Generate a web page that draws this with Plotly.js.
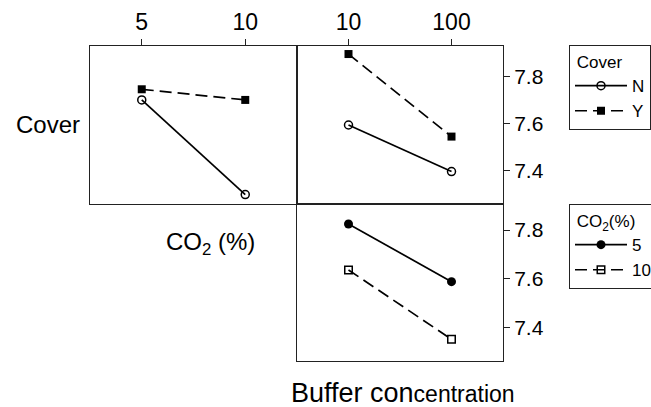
<!DOCTYPE html>
<html>
<head>
<meta charset="utf-8">
<script src="https://cdn.plot.ly/plotly-3.0.1.min.js"></script>
<style>html,body{margin:0;padding:0;background:#fff;}#chart{width:651px;height:407px;}</style>
</head>
<body>
<div id="chart"></div>
<script>
// ---- data ----
const co2Levels = ["5", "10"];
const bufferLevels = ["10", "100"];
const coverLevels = ["N", "Y"];
// pH means: Cover x CO2 (top-left panel)
const coverN_byCO2 = [7.70, 7.30];
const coverY_byCO2 = [7.745, 7.70];
// pH means: Cover x Buffer (top-right panel)
const coverN_byBuffer = [7.594, 7.397];
const coverY_byBuffer = [7.894, 7.545];
// pH means: CO2 x Buffer (bottom-right panel)
const co2_5_byBuffer = [7.825, 7.589];
const co2_10_byBuffer = [7.637, 7.353];
const yTicks = [7.4, 7.6, 7.8];
const yTickText = ["7.4", "7.6", "7.8"];

// ---- styles ----
const FONT = "Liberation Sans, Arial, sans-serif";
const LW = 1.7;
const DASH = "12px,6px";
const openCircle = {symbol: "circle-open", size: 8, color: "#000", line: {width: 1.5, color: "#000"}};
const filledSquare = {symbol: "square", size: 8, color: "#000", line: {width: 0}};
const filledCircle = {symbol: "circle", size: 9, color: "#000", line: {width: 0}};
const openSquare = {symbol: "square-open", size: 7.5, color: "#000", line: {width: 1.5, color: "#000"}};

function tr(x, y, xa, ya, name, dash, marker, legend, show) {
  return {
    type: "scatter", mode: "lines+markers", x: x, y: y, xaxis: xa, yaxis: ya,
    name: name, line: {color: "#000", width: LW, dash: dash}, marker: marker,
    legend: legend, showlegend: show, cliponaxis: false
  };
}

const data = [
  tr(co2Levels, coverN_byCO2, "x", "y", coverLevels[0], "solid", openCircle, "legend", false),
  tr(co2Levels, coverY_byCO2, "x", "y", coverLevels[1], DASH, filledSquare, "legend", false),
  tr(bufferLevels, coverN_byBuffer, "x2", "y2", coverLevels[0], "solid", openCircle, "legend", true),
  tr(bufferLevels, coverY_byBuffer, "x2", "y2", coverLevels[1], DASH, filledSquare, "legend", true),
  tr(bufferLevels, co2_5_byBuffer, "x3", "y3", co2Levels[0], "solid", filledCircle, "legend2", true),
  tr(bufferLevels, co2_10_byBuffer, "x3", "y3", co2Levels[1], DASH, openSquare, "legend2", true)
];

const W = 651, H = 407;
const px = v => v / W, py = v => 1 - v / H;
const axLine = {showline: true, mirror: true, linecolor: "#222", linewidth: 1, showgrid: false, zeroline: false};
const xCommon = Object.assign({}, axLine, {type: "category", range: [-0.5, 1.5], ticks: "outside", ticklen: 6, tickcolor: "#222",
  tickfont: {family: FONT, size: 23, color: "#000"}, automargin: false});
const yCommon = Object.assign({}, axLine, {tickfont: {family: FONT, size: 21, color: "#000"}, tickvals: yTicks, ticktext: yTickText, automargin: false});

const legendFont = {family: FONT, size: 17, color: "#000"};
const layout = {
  width: W, height: H,
  margin: {l: 0, r: 0, t: 0, b: 0, autoexpand: false},
  paper_bgcolor: "#fff", plot_bgcolor: "#fff",
  font: {family: FONT, color: "#000"},
  xaxis: Object.assign({}, xCommon, {domain: [px(90), px(297)], side: "top", anchor: "y", categoryarray: co2Levels, categoryorder: "array"}),
  yaxis: Object.assign({}, yCommon, {domain: [py(204), py(46)], range: [7.26, 7.928], showticklabels: false, ticks: "", anchor: "x"}),
  xaxis2: Object.assign({}, xCommon, {domain: [px(297), px(503)], side: "top", anchor: "y2", categoryarray: bufferLevels, categoryorder: "array"}),
  yaxis2: Object.assign({}, yCommon, {domain: [py(204), py(46)], range: [7.26, 7.928], side: "right", ticks: "outside", ticklen: 6, tickcolor: "#222", anchor: "x2"}),
  xaxis3: Object.assign({}, xCommon, {domain: [px(297), px(503)], anchor: "y3", ticks: "", showticklabels: false, categoryarray: bufferLevels, categoryorder: "array"}),
  yaxis3: Object.assign({}, yCommon, {domain: [py(361), py(204)], range: [7.264, 7.907], side: "right", ticks: "outside", ticklen: 6, tickcolor: "#222", anchor: "x3"}),
  legend: {
    x: px(569), y: py(45), xanchor: "left", yanchor: "top",
    bordercolor: "#222", borderwidth: 1, bgcolor: "#fff",
    font: legendFont,
    title: {text: "&nbsp;Cover", font: legendFont, side: "top"},
    itemwidth: 52, tracegroupgap: 0, traceorder: "normal", itemclick: false
  },
  legend2: {
    x: px(569), y: py(204), xanchor: "left", yanchor: "top",
    bordercolor: "#222", borderwidth: 1, bgcolor: "#fff",
    font: legendFont,
    title: {text: "&nbsp;CO<sub>2</sub>(%)", font: legendFont, side: "top"},
    itemwidth: 52, tracegroupgap: 0, traceorder: "normal", itemclick: false
  },
  annotations: [
    {text: "Cover", xref: "paper", yref: "paper", x: px(47.5), y: py(124), xanchor: "center", yanchor: "middle",
     showarrow: false, font: {family: FONT, size: 24, color: "#000"}},
    {text: "CO<sub>2</sub> (%)", xref: "paper", yref: "paper", x: px(210.5), y: py(243), xanchor: "center", yanchor: "middle",
     showarrow: false, font: {family: FONT, size: 24, color: "#000"}},
    {text: "<span style='font-size:27px'>Buffer con</span><span style='font-size:23px'>centration</span>", xref: "paper", yref: "paper",
     x: px(402.5), y: py(393), xanchor: "center", yanchor: "middle",
     showarrow: false, font: {family: FONT, size: 27, color: "#000"}}
  ]
};

Plotly.newPlot("chart", data, layout, {displayModeBar: false, staticPlot: true});
</script>
</body>
</html>
